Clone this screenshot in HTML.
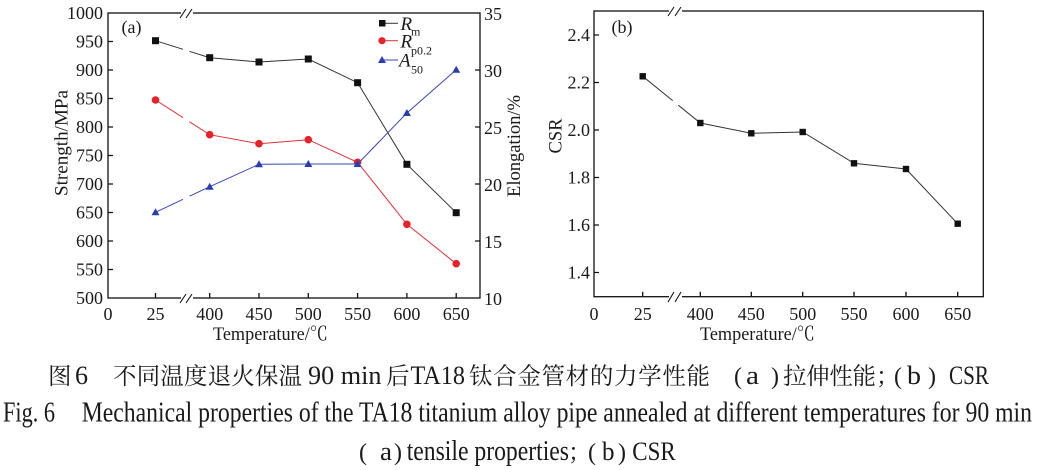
<!DOCTYPE html>
<html><head><meta charset="utf-8"><style>
html,body{margin:0;padding:0;background:#fff;}
svg{display:block;}
text{font-family:"Liberation Serif","Noto Serif CJK SC",serif;fill:#1a1a1a;}
.cjk{font-family:"Liberation Serif","Noto Serif CJK SC","Noto Sans CJK SC",serif;}
</style></head><body>
<svg width="1039" height="470" viewBox="0 0 1039 470" xmlns="http://www.w3.org/2000/svg">
<!-- ===== Panel (a) ===== -->
<g stroke="#111" stroke-width="1.3" fill="none">
  <rect x="108" y="13" width="372" height="285"/>
  <path d="M108 41.5h5M108 70h5M108 98.5h5M108 127h5M108 155.5h5M108 184h5M108 212.5h5M108 241h5M108 269.5h5"/>
  <path d="M480 70h-5M480 127h-5M480 184h-5M480 241h-5"/>
  <path d="M155.5 298v-5M209.7 298v-5M259 298v-5M308.3 298v-5M357.6 298v-5M406.9 298v-5M456.2 298v-5"/>
</g>
<rect x="181" y="8" width="12" height="10" fill="#fff"/>
<rect x="181" y="293" width="12" height="10" fill="#fff"/>
<g stroke="#111" stroke-width="1.1">
  <path d="M180 18L186 9M186 18L192 9"/>
  <path d="M180 303L186 294M186 303L192 294"/>
</g>
<g stroke="#333" stroke-width="1" fill="none">
  <path d="M155.5 40.7L183 49.3M189.5 51.3L209.7 57.7L259 62L308.3 59L357.6 82.7L406.9 164.3L456.2 212.7"/>
</g>
<g fill="#111">
  <rect x="152" y="37.2" width="7" height="7"/><rect x="206.2" y="54.2" width="7" height="7"/>
  <rect x="255.5" y="58.5" width="7" height="7"/><rect x="304.8" y="55.5" width="7" height="7"/>
  <rect x="354.1" y="79.2" width="7" height="7"/><rect x="403.4" y="160.8" width="7" height="7"/>
  <rect x="452.7" y="209.2" width="7" height="7"/>
</g>
<g stroke="#e0303a" stroke-width="1" fill="none">
  <path d="M155.5 100L183 117.6M189.5 121.8L209.7 134.7L259 143.7L308.3 139.7L357.6 162.3L406.9 224.3L456.2 263.7"/>
</g>
<g fill="#e8222b">
  <circle cx="155.5" cy="100" r="3.8"/><circle cx="209.7" cy="134.7" r="3.8"/>
  <circle cx="259" cy="143.7" r="3.8"/><circle cx="308.3" cy="139.7" r="3.8"/>
  <circle cx="357.6" cy="162.3" r="3.8"/><circle cx="406.9" cy="224.3" r="3.8"/>
  <circle cx="456.2" cy="263.7" r="3.8"/>
</g>
<g stroke="#3a48b0" stroke-width="1" fill="none">
  <path d="M155.5 212.3L183 199.3M189.5 196.2L209.7 186.7L259 164.3L308.3 164L357.6 164L406.9 113L456.2 69.7"/>
</g>
<g fill="#2a3eb0">
  <path d="M155.5 208.3l4 7h-8z"/><path d="M209.7 182.7l4 7h-8z"/>
  <path d="M259 160.3l4 7h-8z"/><path d="M308.3 160l4 7h-8z"/>
  <path d="M357.6 160l4 7h-8z"/><path d="M406.9 109l4 7h-8z"/>
  <path d="M456.2 65.7l4 7h-8z"/>
</g>
<!-- legend -->
<path d="M382 23.3H398" stroke="#333" stroke-width="1"/>
<rect x="379" y="20" width="6.5" height="6.5" fill="#111"/>
<path d="M382 40.7H398" stroke="#e0303a" stroke-width="1"/>
<circle cx="382" cy="40.7" r="3.6" fill="#e8222b"/>
<path d="M382 60H398" stroke="#3a48b0" stroke-width="1"/>
<path d="M382 56l4 7h-8z" fill="#2a3eb0"/>
<text x="400.5" y="30" font-size="19" font-style="italic">R</text>
<text x="411" y="35.3" font-size="12">m</text>
<text x="400.5" y="47.5" font-size="19" font-style="italic">R</text>
<text x="411" y="54.5" font-size="12">p0.2</text>
<text x="399" y="66.5" font-size="19" font-style="italic">A</text>
<text x="411" y="73.3" font-size="12">50</text>
<text x="121.5" y="33" font-size="18">(a)</text>
<g font-size="18" text-anchor="end">
  <text x="103" y="19">1000</text><text x="103" y="47.5">950</text><text x="103" y="76">900</text>
  <text x="103" y="104.5">850</text><text x="103" y="133">800</text><text x="103" y="161.5">750</text>
  <text x="103" y="190">700</text><text x="103" y="218.5">650</text><text x="103" y="247">600</text>
  <text x="103" y="275.5">550</text><text x="103" y="304">500</text>
</g>
<g font-size="18">
  <text x="484" y="20">35</text><text x="484" y="77">30</text><text x="484" y="134">25</text>
  <text x="484" y="191">20</text><text x="484" y="248">15</text><text x="484" y="305">10</text>
</g>
<g font-size="18" text-anchor="middle">
  <text x="108" y="320">0</text><text x="155.5" y="320">25</text><text x="209.7" y="320">400</text>
  <text x="259" y="320">450</text><text x="308.3" y="320">500</text><text x="357.6" y="320">550</text>
  <text x="406.9" y="320">600</text><text x="456.2" y="320">650</text>
</g>
<text x="213" y="340" font-size="19" textLength="115" lengthAdjust="spacingAndGlyphs">Temperature/℃</text>
<text transform="translate(67.5,143) rotate(-90)" font-size="19" text-anchor="middle" textLength="106" lengthAdjust="spacingAndGlyphs">Strength/MPa</text>
<text transform="translate(520,146) rotate(-90)" font-size="19" text-anchor="middle" textLength="102" lengthAdjust="spacingAndGlyphs">Elongation/%</text>

<!-- ===== Panel (b) ===== -->
<g stroke="#111" stroke-width="1.3" fill="none">
  <rect x="594" y="11" width="389.3" height="285.7"/>
  <path d="M594 35h5M594 82.5h5M594 130h5M594 177.5h5M594 225h5M594 272.5h5"/>
  <path d="M642.7 296.7v-5M700.3 296.7v-5M751.3 296.7v-5M802.7 296.7v-5M854 296.7v-5M906 296.7v-5M957.7 296.7v-5"/>
</g>
<rect x="669" y="6" width="13" height="10" fill="#fff"/>
<rect x="669" y="291" width="13" height="11" fill="#fff"/>
<g stroke="#111" stroke-width="1.1">
  <path d="M668 16L674 7M675 16L681 7"/>
  <path d="M668 302L674 292M675 302L681 292"/>
</g>
<g stroke="#333" stroke-width="1" fill="none">
  <path d="M642.7 76.3L672.7 100.6M678.3 105.2L700.3 123L751.3 133.3L802.7 132L854 163.3L906 169L957.7 223.7"/>
</g>
<g fill="#111">
  <rect x="639.5" y="73.1" width="6.4" height="6.4"/><rect x="697.1" y="119.8" width="6.4" height="6.4"/>
  <rect x="748.1" y="130.1" width="6.4" height="6.4"/><rect x="799.5" y="128.8" width="6.4" height="6.4"/>
  <rect x="850.8" y="160.1" width="6.4" height="6.4"/><rect x="902.8" y="165.8" width="6.4" height="6.4"/>
  <rect x="954.5" y="220.5" width="6.4" height="6.4"/>
</g>
<text x="611.5" y="33" font-size="18">(b)</text>
<g font-size="18" text-anchor="end">
  <text x="590" y="41">2.4</text><text x="590" y="88.5">2.2</text><text x="590" y="136">2.0</text>
  <text x="590" y="183.5">1.8</text><text x="590" y="231">1.6</text><text x="590" y="278.5">1.4</text>
</g>
<g font-size="18" text-anchor="middle">
  <text x="594" y="320">0</text><text x="642.7" y="320">25</text><text x="700.3" y="320">400</text>
  <text x="751.3" y="320">450</text><text x="802.7" y="320">500</text><text x="854" y="320">550</text>
  <text x="906" y="320">600</text><text x="957.7" y="320">650</text>
</g>
<text x="700" y="340" font-size="19" textLength="115" lengthAdjust="spacingAndGlyphs">Temperature/℃</text>
<text transform="translate(561.5,136) rotate(-90)" font-size="19" text-anchor="middle" textLength="35" lengthAdjust="spacingAndGlyphs">CSR</text>

<!-- ===== Caption ===== -->
<g class="cjk">
  <text x="48" y="384" font-size="23.5">图</text>
  <text x="75" y="384" font-size="26" textLength="13" lengthAdjust="spacingAndGlyphs">6</text>
  <text x="113" y="384" font-size="23.5" textLength="189" lengthAdjust="spacing">不同温度退火保温</text>
  <text x="308" y="384" font-size="26" textLength="73.5" lengthAdjust="spacingAndGlyphs">90 min</text>
  <text x="386" y="384" font-size="23.5">后</text>
  <text x="410.5" y="384" font-size="26" textLength="54.5" lengthAdjust="spacingAndGlyphs">TA18</text>
  <text x="469" y="384" font-size="23.5" textLength="241" lengthAdjust="spacing">钛合金管材的力学性能</text>
  <text x="734" y="384" font-size="24">(</text>
  <text x="746" y="384" font-size="26" textLength="13" lengthAdjust="spacingAndGlyphs">a</text>
  <text x="771" y="384" font-size="24">)</text>
  <text x="783" y="384" font-size="23.5" textLength="93" lengthAdjust="spacing">拉伸性能</text>
  <text x="876" y="384" font-size="23.5">；</text>
  <text x="894" y="384" font-size="24">(</text>
  <text x="907" y="384" font-size="26" textLength="14" lengthAdjust="spacingAndGlyphs">b</text>
  <text x="928" y="384" font-size="24">)</text>
  <text x="949" y="384" font-size="26" textLength="40" lengthAdjust="spacingAndGlyphs">CSR</text>

  <text x="3" y="421.7" font-size="28" textLength="52" lengthAdjust="spacingAndGlyphs">Fig. 6</text>
  <text x="81.7" y="421.7" font-size="28" textLength="950.3" lengthAdjust="spacingAndGlyphs">Mechanical properties of the TA18 titanium alloy pipe annealed at different temperatures for 90 min</text>

  <text x="359" y="460" font-size="24">(</text>
  <text x="380" y="460" font-size="26" textLength="12" lengthAdjust="spacingAndGlyphs">a</text>
  <text x="394" y="460" font-size="24">)</text>
  <text x="406.7" y="460" font-size="28" textLength="162.3" lengthAdjust="spacingAndGlyphs">tensile properties</text>
  <text x="568" y="460" font-size="23.5">；</text>
  <text x="588" y="460" font-size="24">(</text>
  <text x="602" y="460" font-size="26" textLength="12.5" lengthAdjust="spacingAndGlyphs">b</text>
  <text x="618" y="460" font-size="24">)</text>
  <text x="632.3" y="460" font-size="26" textLength="43.4" lengthAdjust="spacingAndGlyphs">CSR</text>
</g>
</svg>
</body></html>
